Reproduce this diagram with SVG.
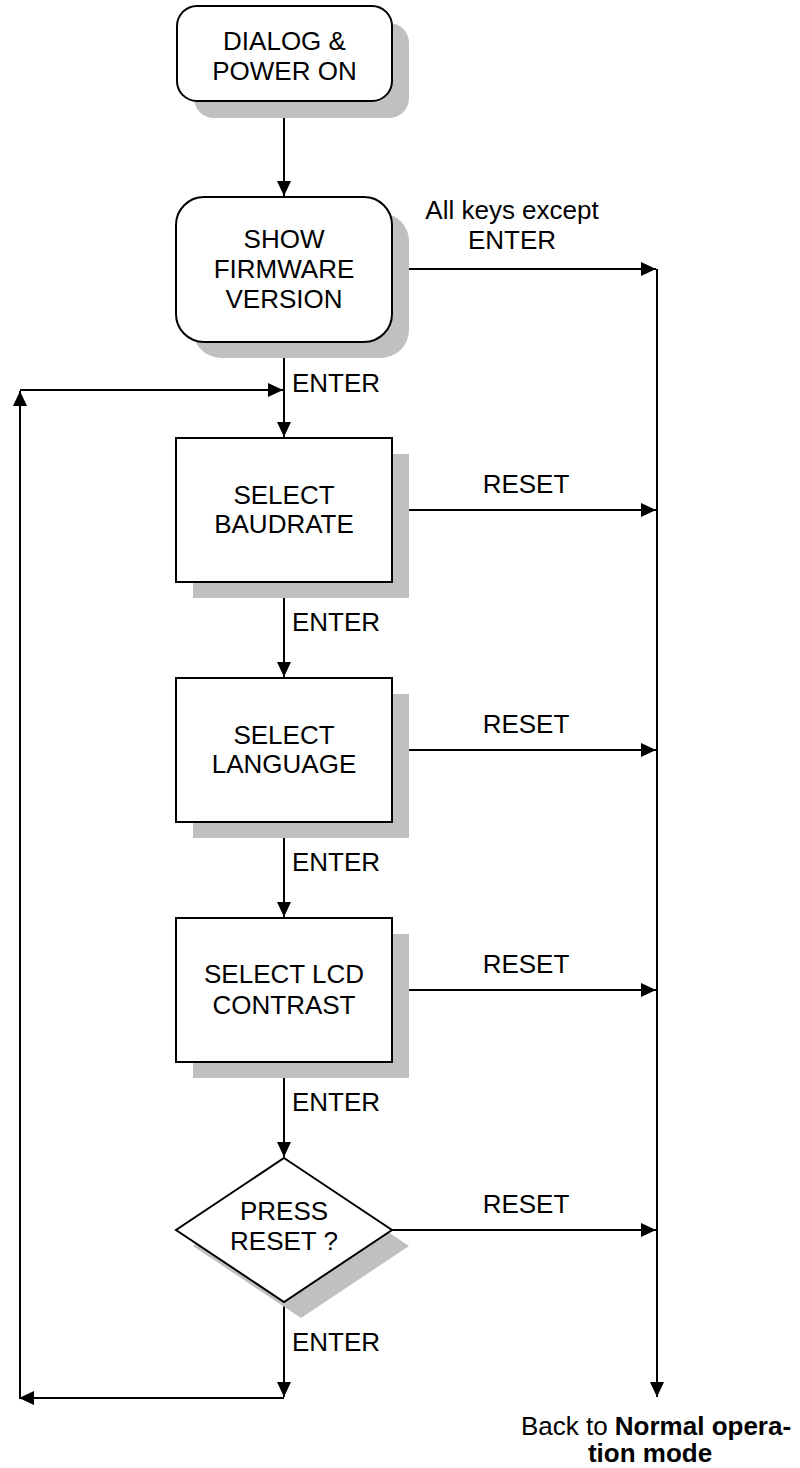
<svg xmlns="http://www.w3.org/2000/svg" width="800" height="1468" viewBox="0 0 800 1468">
<style>
text{font-family:"Liberation Sans",Arial,sans-serif;font-size:26px;fill:#000}
.c{text-anchor:middle}
.node{fill:#fff;stroke:#000;stroke-width:2}
.sh{fill:#c0c0c0;stroke:none}
.ln{fill:none;stroke:#000;stroke-width:2}
</style>
<defs>
<marker id="ah" markerUnits="userSpaceOnUse" markerWidth="16" markerHeight="14" refX="15" refY="7" orient="auto">
<path d="M0,0 L15,7 L0,14 z" fill="#000"/>
</marker>
</defs>
<rect width="800" height="1468" fill="#fff"/>

<g id="connectors">
<line class="ln" x1="284" y1="101" x2="284" y2="196" marker-end="url(#ah)"/>
<line class="ln" x1="392" y1="269" x2="656" y2="269" marker-end="url(#ah)"/>
<line class="ln" x1="657" y1="269" x2="657" y2="1397" marker-end="url(#ah)"/>
<line class="ln" x1="284" y1="342" x2="284" y2="437" marker-end="url(#ah)"/>
<line class="ln" x1="392" y1="510" x2="656" y2="510" marker-end="url(#ah)"/>
<line class="ln" x1="284" y1="582" x2="284" y2="677" marker-end="url(#ah)"/>
<line class="ln" x1="392" y1="750" x2="656" y2="750" marker-end="url(#ah)"/>
<line class="ln" x1="284" y1="822" x2="284" y2="917" marker-end="url(#ah)"/>
<line class="ln" x1="392" y1="990" x2="656" y2="990" marker-end="url(#ah)"/>
<line class="ln" x1="284" y1="1062" x2="284" y2="1157" marker-end="url(#ah)"/>
<line class="ln" x1="392" y1="1230" x2="656" y2="1230" marker-end="url(#ah)"/>
<line class="ln" x1="284" y1="1302" x2="284" y2="1397" marker-end="url(#ah)"/>
<line class="ln" x1="284" y1="1398" x2="19" y2="1398" marker-end="url(#ah)"/>
<line class="ln" x1="20" y1="1398" x2="20" y2="391" marker-end="url(#ah)"/>
<line class="ln" x1="20" y1="390" x2="283" y2="390" marker-end="url(#ah)"/>
<text x="512" y="219" class="c">All keys except</text>
<text x="512" y="249" class="c">ENTER</text>
<text x="292" y="392">ENTER</text>
<text x="292" y="631">ENTER</text>
<text x="292" y="871">ENTER</text>
<text x="292" y="1111">ENTER</text>
<text x="292" y="1351">ENTER</text>
<text x="526" y="493" class="c">RESET</text>
<text x="526" y="733" class="c">RESET</text>
<text x="526" y="973" class="c">RESET</text>
<text x="526" y="1213" class="c">RESET</text>
<text x="656" y="1435" class="c">Back to <tspan font-weight="bold">Normal opera-</tspan></text>
<text x="650" y="1462" class="c" font-weight="bold">tion mode</text>
</g>

<g id="n1">
<rect class="sh" x="194" y="23" width="215" height="95" rx="20"/>
<rect class="node" x="177" y="6" width="215" height="95" rx="20"/>
<text x="284.5" y="50" class="c">DIALOG &amp;</text>
<text x="284.5" y="80" class="c">POWER ON</text>
</g>

<g id="n2">
<rect class="sh" x="193" y="213" width="216" height="145" rx="28"/>
<rect class="node" x="176" y="197" width="216" height="145" rx="28"/>
<text x="284" y="248" class="c">SHOW</text>
<text x="284" y="278" class="c">FIRMWARE</text>
<text x="284" y="308" class="c">VERSION</text>
</g>

<g id="n3">
<rect class="sh" x="193" y="454" width="216" height="144"/>
<rect class="node" x="176" y="438" width="216" height="144"/>
<text x="284" y="504" class="c">SELECT</text>
<text x="284" y="533" class="c">BAUDRATE</text>
</g>

<g id="n4">
<rect class="sh" x="193" y="694" width="216" height="144"/>
<rect class="node" x="176" y="678" width="216" height="144"/>
<text x="284" y="744" class="c">SELECT</text>
<text x="284" y="773" class="c">LANGUAGE</text>
</g>

<g id="n5">
<rect class="sh" x="193" y="934" width="216" height="144"/>
<rect class="node" x="176" y="918" width="216" height="144"/>
<text x="284" y="983" class="c">SELECT LCD</text>
<text x="284" y="1014" class="c">CONTRAST</text>
</g>

<g id="n6">
<polygon class="sh" points="301,1174 409,1246 301,1318 193,1246"/>
<polygon class="node" points="284,1158 392,1230 284,1302 176,1230"/>
<text x="284" y="1220" class="c">PRESS</text>
<text x="284" y="1250" class="c">RESET ?</text>
</g>
</svg>
